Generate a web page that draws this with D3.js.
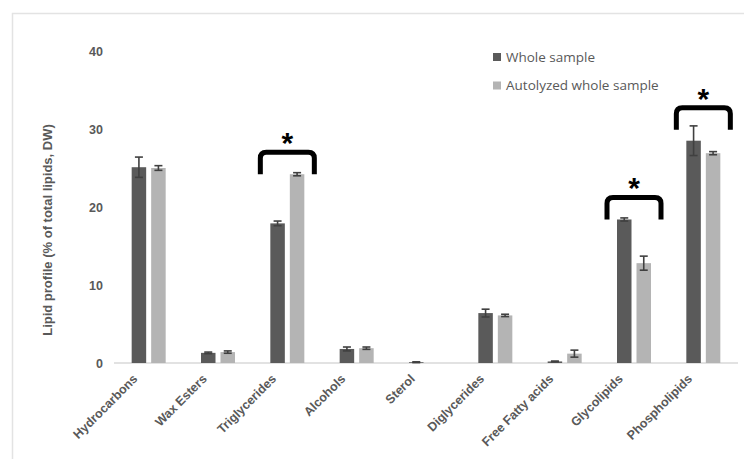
<!DOCTYPE html>
<html>
<head>
<meta charset="utf-8">
<script src="https://cdn.jsdelivr.net/npm/d3@7"></script>
<style>
  body { margin: 0; background: #fff; }
  svg { display: block; }
</style>
</head>
<body>
<div class="content"></div>
<script>
// lipid classes on the x axis
var categories = ["Hydrocarbons", "Wax Esters", "Triglycerides", "Alcohols", "Sterol",
	"Diglycerides", "Free Fatty acids", "Glycolipids", "Phospholipids"];
var seriesNames = ["Whole sample", "Autolyzed whole sample"];

// % of total lipids
var wholeValues = [25.1, 1.3, 17.9, 1.8, 0.1, 6.4, 0.2, 18.4, 28.5];
var wholeErrors = [1.3, 0.1, 0.3, 0.25, 0.05, 0.5, 0.05, 0.2, 1.9];
var autoValues = [25.0, 1.4, 24.2, 1.9, 0, 6.1, 1.2, 12.8, 26.9];
var autoErrors = [0.3, 0.15, 0.2, 0.15, 0, 0.15, 0.45, 0.9, 0.2];

var yTicks = [0, 10, 20, 30, 40];

// significance brackets: category and the value where the legs end
var sigCategories = ["Triglycerides", "Glycolipids", "Phospholipids"];
var sigLevels = [24.2, 18.4, 29.9];

var width = 744, height = 459;
var colors = ["#5a5a5a", "#b4b4b4"];

var svg = d3.select(".content")
	.append("svg")
	.attr("width", width)
	.attr("height", height);

// light frame around the chart area
svg.append("rect")
	.attr("x", 12.5)
	.attr("y", 13.5)
	.attr("width", 800)
	.attr("height", 500)
	.attr("fill", "none")
	.attr("stroke", "#e3e3e3")
	.attr("stroke-width", 1.5);

var x = d3.scaleBand()
	.domain(categories)
	.range([114, 738])
	.paddingInner(0)
	.paddingOuter(0);

var y = d3.scaleLinear()
	.domain([0, 40])
	.range([363, 51]);

var barW = 14.5, gap = 5;

// y tick labels (no gridlines in the reference)
var yAxis = d3.axisLeft(y).tickValues(yTicks).tickSize(0).tickPadding(0);
var yg = svg.append("g")
	.attr("transform", "translate(103,0)")
	.call(yAxis);
yg.select(".domain").remove();
yg.selectAll("text")
	.attr("fill", "#595959")
	.style("font-family", "Liberation Sans, Arial, sans-serif")
	.style("font-weight", "bold")
	.style("font-size", "12.5px");

// baseline
svg.append("line")
	.attr("x1", x.range()[0])
	.attr("x2", x.range()[1])
	.attr("y1", y(0))
	.attr("y2", y(0))
	.attr("stroke", "#d9d9d9")
	.attr("stroke-width", 1.5);

var series = [
	{ values: wholeValues, errors: wholeErrors },
	{ values: autoValues, errors: autoErrors }
];

series.forEach(function(s, si) {
	var rows = categories.map(function(c, i) {
		return { cat: c, v: s.values[i], e: s.errors[i] };
	});
	var xOff = function(d) {
		var c = x(d.cat) + x.bandwidth() / 2;
		return si === 0 ? c - gap / 2 - barW : c + gap / 2;
	};
	var g = svg.append("g");
	g.selectAll("rect")
		.data(rows)
		.enter()
		.append("rect")
		.attr("x", xOff)
		.attr("y", function(d) { return y(d.v); })
		.attr("width", barW)
		.attr("height", function(d) { return y(0) - y(d.v); })
		.attr("fill", colors[si]);

	var eb = g.selectAll("g.err")
		.data(rows.filter(function(d) { return d.e > 0; }))
		.enter()
		.append("g")
		.attr("class", "err")
		.attr("stroke", "#404040")
		.attr("stroke-width", 1.6);
	eb.append("line")
		.attr("x1", function(d) { return xOff(d) + barW / 2; })
		.attr("x2", function(d) { return xOff(d) + barW / 2; })
		.attr("y1", function(d) { return y(d.v - d.e); })
		.attr("y2", function(d) { return y(d.v + d.e); });
	[-1, 1].forEach(function(sign) {
		eb.append("line")
			.attr("x1", function(d) { return xOff(d) + barW / 2 - 4; })
			.attr("x2", function(d) { return xOff(d) + barW / 2 + 4; })
			.attr("y1", function(d) { return y(d.v + sign * d.e); })
			.attr("y2", function(d) { return y(d.v + sign * d.e); });
	});
});

// x category labels, rotated
svg.append("g")
	.selectAll("text")
	.data(categories)
	.enter()
	.append("text")
	.text(function(d) { return d; })
	.attr("transform", function(d) {
		return "translate(" + (x(d) + x.bandwidth() / 2 - 17) + ",373) rotate(-45)";
	})
	.attr("text-anchor", "end")
	.attr("dy", "0.75em")
	.attr("fill", "#595959")
	.style("font-family", "Liberation Sans, Arial, sans-serif")
	.style("font-weight", "bold")
	.style("font-size", "12.5px");

// y axis title
svg.append("text")
	.text("Lipid profile (% of total lipids, DW)")
	.attr("transform", "translate(52,230) rotate(-90)")
	.attr("text-anchor", "middle")
	.attr("fill", "#595959")
	.style("font-family", "Liberation Sans, Arial, sans-serif")
	.style("font-weight", "bold")
	.style("font-size", "13px");

// significance brackets with stars
var bw = 27, bh = 22, r = 6;
sigCategories.forEach(function(c, i) {
	var cx = x(c) + x.bandwidth() / 2;
	var yb = y(sigLevels[i]);
	var yt = yb - bh;
	svg.append("path")
		.attr("d", "M" + (cx - bw) + "," + yb +
			" V" + (yt + r) +
			" Q" + (cx - bw) + "," + yt + " " + (cx - bw + r) + "," + yt +
			" H" + (cx + bw - r) +
			" Q" + (cx + bw) + "," + yt + " " + (cx + bw) + "," + (yt + r) +
			" V" + yb)
		.attr("fill", "none")
		.attr("stroke", "#000")
		.attr("stroke-width", 5);
	svg.append("text")
		.text("*")
		.attr("x", cx)
		.attr("y", yt + 1)
		.attr("text-anchor", "middle")
		.style("font-family", "Liberation Sans, Arial, sans-serif")
		.style("font-weight", "bold")
		.style("font-size", "30px")
		.attr("fill", "#000");
});

// legend
var legend = svg.append("g")
	.selectAll("g")
	.data(seriesNames)
	.enter()
	.append("g")
	.attr("transform", function(d, i) { return "translate(493," + (57 + i * 28.5) + ")"; });
legend.append("rect")
	.attr("x", 0)
	.attr("y", -4)
	.attr("width", 8)
	.attr("height", 8)
	.attr("fill", function(d, i) { return colors[i]; });
legend.append("text")
	.text(function(d) { return d; })
	.attr("x", 13)
	.attr("dy", "0.35em")
	.attr("fill", "#595959")
	.style("font-family", "Open Sans, sans-serif")
	.style("font-size", "13.5px");
</script>
</body>
</html>
